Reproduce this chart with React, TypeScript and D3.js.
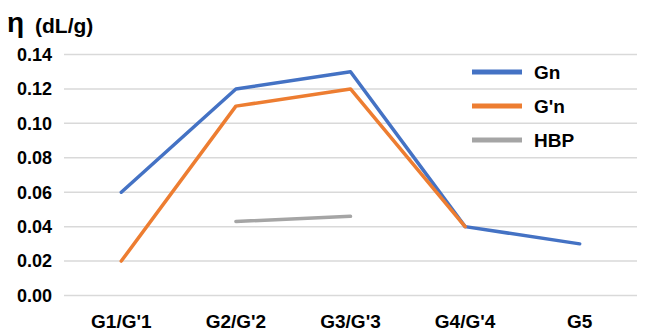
import React from "react";
import * as d3 from "d3";

const categories = ["G1/G'1", "G2/G'2", "G3/G'3", "G4/G'4", "G5"];
const gnValues: (number | null)[] = [0.06, 0.12, 0.13, 0.04, 0.03];
const gpnValues: (number | null)[] = [0.02, 0.11, 0.12, 0.04, null];
const hbpValues: (number | null)[] = [null, 0.043, 0.046, null, null];
const yTicks = [0, 0.02, 0.04, 0.06, 0.08, 0.1, 0.12, 0.14];

const series = [
  { name: "Gn", values: gnValues, color: "#4472C4" },
  { name: "G'n", values: gpnValues, color: "#ED7D31" },
  { name: "HBP", values: hbpValues, color: "#A5A5A5" },
];

const W = 651;
const H = 333;
const font = "'Liberation Sans', Arial, sans-serif";

export default function App() {
  const x = d3.scaleBand<string>().domain(categories).range([64, 637]);
  const y = d3.scaleLinear().domain([0, 0.14]).range([295.5, 54.5]);
  const cx = (c: string) => (x(c) as number) + x.bandwidth() / 2;

  const line = d3
    .line<[string, number | null]>()
    .defined((d) => d[1] !== null)
    .x((d) => cx(d[0]))
    .y((d) => y(d[1] as number));

  return (
    <div style={{ position: "absolute", left: 0, top: 0 }}>
      <svg width={W} height={H} style={{ display: "block" }}>
        <rect width={W} height={H} fill="#fff" />
        {yTicks.map((t) => (
          <g key={t}>
            <line x1={64} x2={637} y1={y(t)} y2={y(t)} stroke="#D9D9D9" strokeWidth={1.5} />
            <text
              x={52}
              y={y(t)}
              dy="0.35em"
              textAnchor="end"
              fontFamily={font}
              fontWeight="bold"
              fontSize={18}
              fill="#000"
            >
              {t.toFixed(2)}
            </text>
          </g>
        ))}
        {categories.map((c) => (
          <text
            key={c}
            x={cx(c)}
            y={328}
            textAnchor="middle"
            fontFamily={font}
            fontWeight="bold"
            fontSize={19}
            fill="#000"
          >
            {c}
          </text>
        ))}
        {series.map((s) => (
          <path
            key={s.name}
            d={line(categories.map((c, i) => [c, s.values[i]] as [string, number | null])) || ""}
            fill="none"
            stroke={s.color}
            strokeWidth={3.5}
            strokeLinejoin="round"
            strokeLinecap="round"
          />
        ))}
        {series.map((s, i) => (
          <g key={s.name} transform={`translate(0, ${72 + i * 34})`}>
            <line x1={472} x2={522} y1={0} y2={0} stroke={s.color} strokeWidth={5} />
            <text x={534} y={0} dy="0.36em" fontFamily={font} fontWeight="bold" fontSize={19} fill="#000">
              {s.name}
            </text>
          </g>
        ))}
        <text x={7} y={32} fontFamily={font} fontWeight="bold" fontSize={28} fill="#000">
          η
        </text>
        <text x={35} y={33} fontFamily={font} fontWeight="bold" fontSize={21} fill="#000">
          (dL/g)
        </text>
      </svg>
    </div>
  );
}
